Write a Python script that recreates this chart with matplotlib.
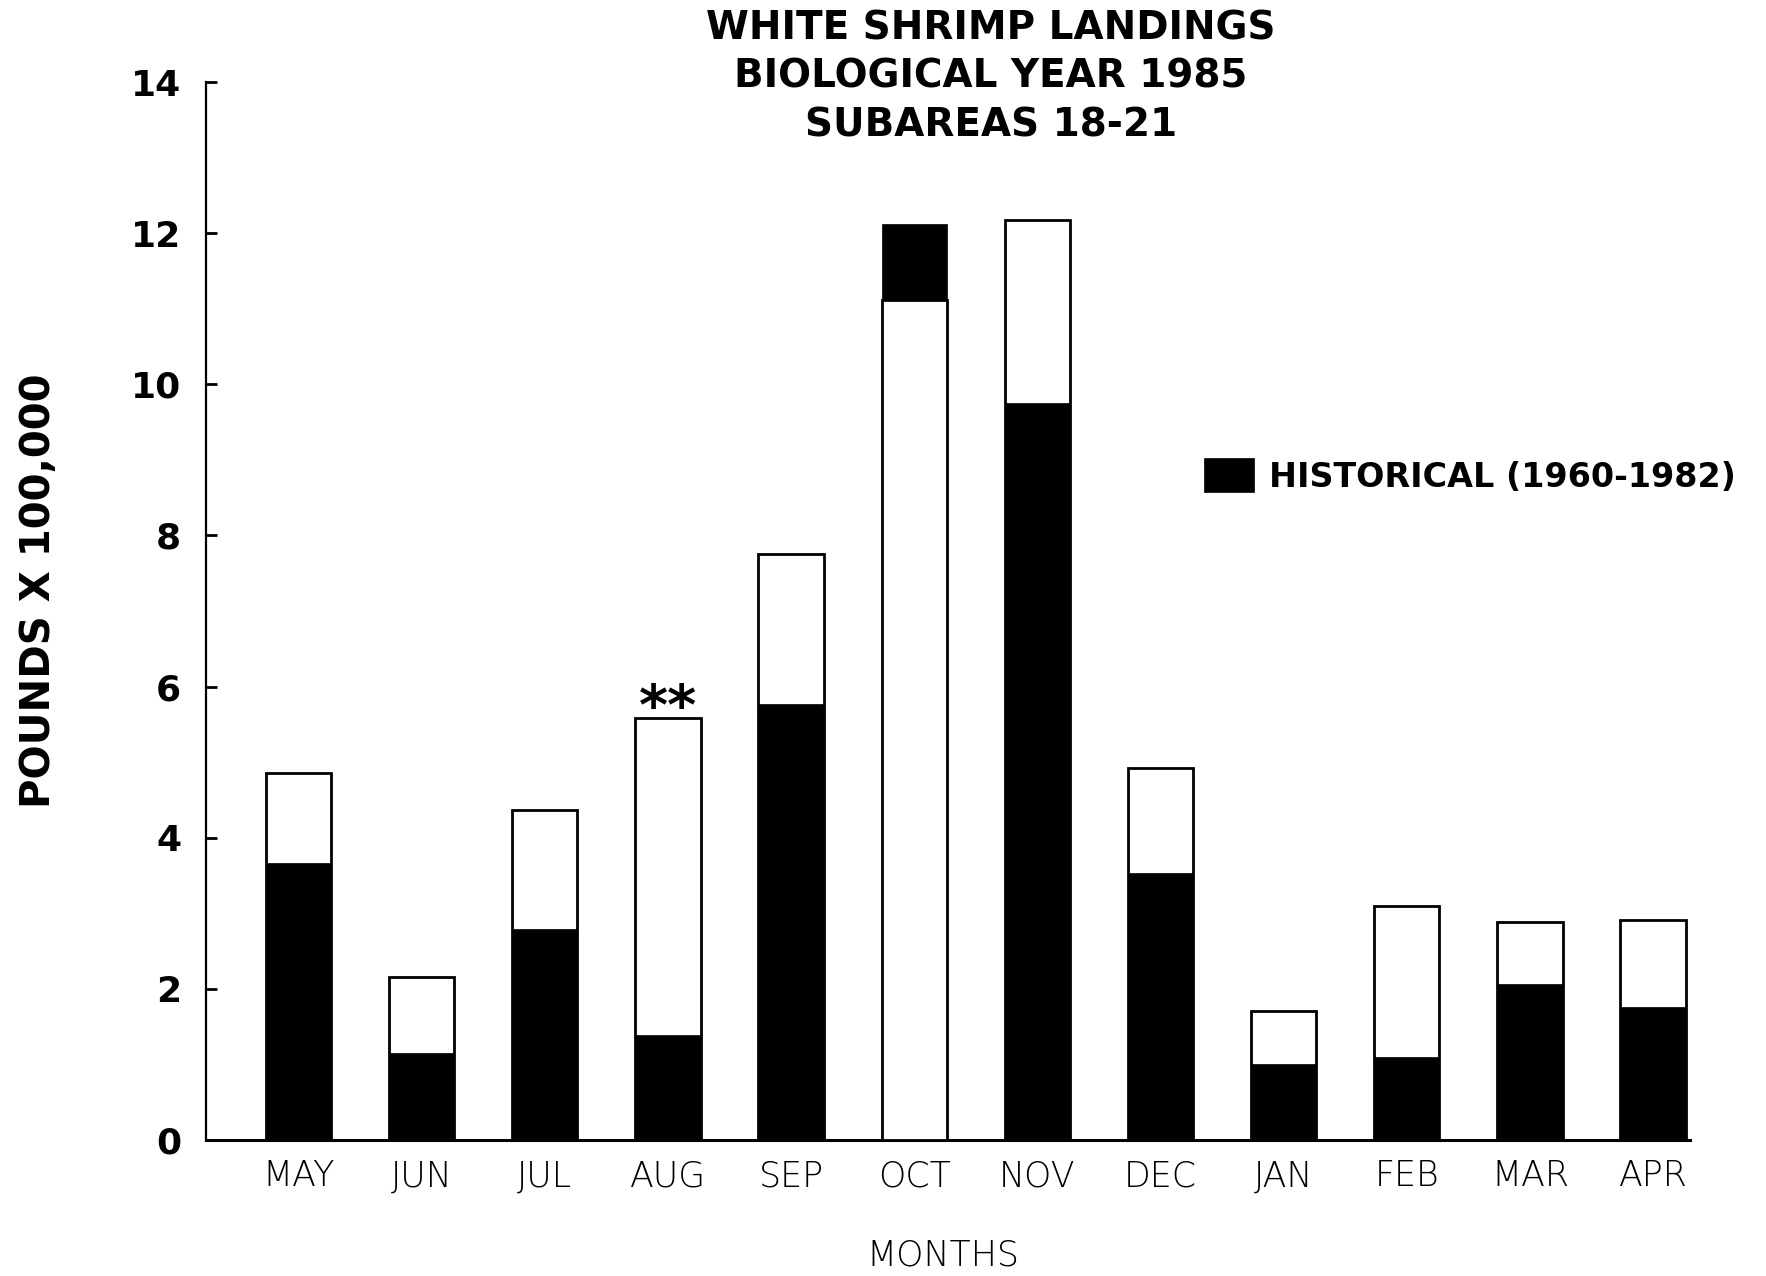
import matplotlib
matplotlib.use("Agg")
import matplotlib.pyplot as plt

# Dati
months = ["MAY", "JUN", "JUL", "AUG", "SEP", "OCT", "NOV", "DEC", "JAN", "FEB", "MAR", "APR"]
landings_1985 = [4.86, 2.16, 4.37, 5.58, 7.75, 11.11, 12.18, 4.92, 1.71, 3.10, 2.89, 2.91]
historical = [3.67, 1.15, 2.79, 1.39, 5.77, 12.12, 9.75, 3.53, 1.00, 1.10, 2.06, 1.76]
y_ticks = [0, 2, 4, 6, 8, 10, 12, 14]
marked_month = "AUG"

BAR_WIDTH = 0.53

fig = plt.figure(figsize=(17.66, 12.76), dpi=100)
ax = fig.add_axes([0.1167, 0.1066, 0.8403, 0.8291])

x = list(range(len(months)))

# 1985 stabiņi (balti ar melnu kontūru) un vēsturiskie (melni)
cur_bars = ax.bar(x, landings_1985, width=BAR_WIDTH, color="white",
                  edgecolor="black", linewidth=2.0, zorder=2)
hist_bars = ax.bar(x, historical, width=BAR_WIDTH, color="black",
                   edgecolor="black", linewidth=0.5, zorder=3,
                   label="HISTORICAL (1960-1982)")

# mazākais stabiņš vienmēr priekšā
for i in range(len(months)):
    if historical[i] > landings_1985[i]:
        hist_bars[i].set_zorder(2)
        cur_bars[i].set_zorder(3)

# zvaigznītes virs AUG
mi = months.index(marked_month)
ax.text(mi, landings_1985[mi] - 0.08, "**", ha="center", va="baseline",
        fontsize=40, fontweight="bold", family="DejaVu Sans", zorder=4)

ax.set_xlim(-0.75, 11.30)
ax.set_ylim(0, 14)

ax.set_yticks(y_ticks)
ax.set_yticklabels([str(v) for v in y_ticks], fontsize=26, fontweight="bold",
                   family="DejaVu Sans")
ax.tick_params(axis="y", direction="in", length=8, width=2, pad=18)

ax.set_xticks(x)
ax.set_xticklabels(months, fontsize=25, fontweight="light", family="DejaVu Sans")
ax.tick_params(axis="x", length=0, pad=14)

for side in ["top", "right"]:
    ax.spines[side].set_visible(False)
ax.spines["left"].set_linewidth(1.6)
ax.spines["bottom"].set_linewidth(2.2)

# Virsraksts un asu nosaukumi
fig.text(0.561, 0.9397, "WHITE SHRIMP LANDINGS\nBIOLOGICAL YEAR 1985\nSUBAREAS 18-21",
         ha="center", va="center", multialignment="center", linespacing=1.35,
         fontsize=28, fontweight="bold", family="DejaVu Sans")
fig.text(0.022, 0.537, "POUNDS X 100,000", rotation=90, ha="center", va="center",
         fontsize=29, fontweight="bold", family="DejaVu Sans")
fig.text(0.534, 0.016, "MONTHS", ha="center", va="center",
         fontsize=25, fontweight="light", family="DejaVu Sans")

# Leģenda tikai vēsturiskajiem datiem
leg = ax.legend(handles=[hist_bars], loc="center left",
                bbox_to_anchor=(0.682, 0.627), bbox_transform=fig.transFigure,
                frameon=False, borderpad=0, borderaxespad=0,
                handlelength=1.48, handleheight=1.2, handletextpad=0.45,
                prop={"size": 24, "weight": "bold", "family": "DejaVu Sans"})

fig.savefig("out.png", dpi=100)
plt.close(fig)
